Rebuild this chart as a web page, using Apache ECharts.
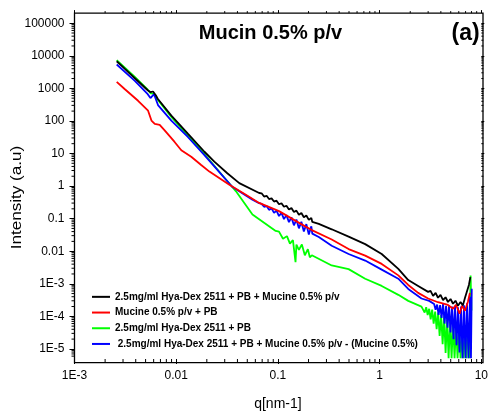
<!DOCTYPE html>
<html>
<head>
<meta charset="utf-8">
<script src="https://cdn.jsdelivr.net/npm/echarts@6/dist/echarts.min.js"></script>
<style>
html,body{margin:0;padding:0;background:#fff;}
#chart{width:491px;height:416px;}
</style>
</head>
<body>
<div id="chart"></div>
<script>
// ---------- data (q [nm-1], intensity [a.u]) ----------
const seriesNames = [
  '2.5mg/ml Hya-Dex 2511 + PB + Mucine 0.5% p/v',
  'Mucine 0.5% p/v + PB',
  '2.5mg/ml Hya-Dex 2511 + PB',
  ' 2.5mg/ml Hya-Dex 2511 + PB + Mucine 0.5% p/v - (Mucine 0.5%)'
];

const blackData = [
  [0.0026, 6790], [0.00313, 3935], [0.00392, 2040], [0.00525, 875],
  [0.0056, 760], [0.00592, 800], [0.0063, 617], [0.00658, 480],
  [0.008955, 145], [0.01301, 40.5], [0.01895, 11.3], [0.0237, 5.6],
  [0.0318, 2.47], [0.0417, 1.23], [0.0654, 0.611],
  [0.0691, 0.599], [0.0731, 0.477], [0.0774, 0.501], [0.0818, 0.399],
  [0.0866, 0.419], [0.0916, 0.334], [0.0969, 0.355], [0.1025, 0.276],
  [0.1084, 0.297], [0.1147, 0.231], [0.1213, 0.2485], [0.1284, 0.191],
  [0.1358, 0.2103], [0.1437, 0.160], [0.1520, 0.176], [0.1608, 0.1323],
  [0.1701, 0.149], [0.1799, 0.1108], [0.1903, 0.1246], [0.2014, 0.0916],
  [0.2130, 0.1055], [0.2178, 0.079],
  [0.2522, 0.069], [0.338, 0.047], [0.4955, 0.0279], [0.721, 0.0165],
  [1.048, 0.0082], [1.527, 0.00287], [1.912, 0.0013], [2.393, 0.000857],
  [2.998, 0.000564], [3.167, 0.000604], [3.357, 0.000427], [3.552, 0.000525],
  [3.75, 0.000372], [3.97, 0.000453], [4.205, 0.000316], [4.45, 0.000386],
  [4.70, 0.000275], [4.98, 0.00034], [5.27, 0.000244], [5.57, 0.000302],
  [5.89, 0.000212], [6.24, 0.000274], [6.59, 0.000217], [6.91, 0.00037],
  [7.21, 0.000407], [7.55, 0.00092], [7.8, 0.0016]
];

const redData = [
  [0.0026, 1585], [0.00313, 940], [0.00422, 415], [0.00529, 206],
  [0.00571, 102.5], [0.00615, 81.4], [0.00688, 75.9], [0.0077, 50.9],
  [0.00964, 22.6], [0.01122, 12.6], [0.01405, 7.94], [0.0176, 4.42],
  [0.0212, 2.78], [0.0333, 1.09], [0.0484, 0.543], [0.0654, 0.304],
  [0.1025, 0.170], [0.187, 0.0568], [0.2155, 0.0445], [0.338, 0.0229],
  [0.4955, 0.0116], [0.721, 0.00733], [1.048, 0.00407], [1.527, 0.00181],
  [1.912, 0.00092], [2.393, 0.000526], [2.998, 0.000353], [3.75, 0.000271],
  [4.70, 0.000223], [5.27, 0.000172], [5.63, 0.000228], [6.12, 0.000121],
  [6.45, 0.000212], [6.90, 0.000149], [7.38, 0.000281], [7.72, 0.000526]
];

const greenData = [
  [0.0026, 7380], [0.00392, 2250], [0.00525, 907], [0.00562, 700],
  [0.00601, 690], [0.00658, 450], [0.008955, 133], [0.01301, 35.2],
  [0.01895, 9.66], [0.02656, 2.75], [0.0333, 1.2], [0.0387, 0.689],
  [0.0562, 0.134], [0.0951, 0.042], [0.1025, 0.04], [0.1122, 0.024],
  [0.1227, 0.029], [0.1313, 0.017], [0.1405, 0.022], [0.149, 0.0046],
  [0.152, 0.016], [0.1608, 0.011], [0.172, 0.016], [0.184, 0.0075],
  [0.197, 0.0115], [0.206, 0.0065], [0.2155, 0.0075], [0.338, 0.00365],
  [0.4955, 0.00281], [0.721, 0.00143], [1.048, 0.000857], [1.527, 0.000457],
  [1.912, 0.000298], [2.58, 0.000198],
  [2.681, 0.0002], [2.773, 0.00013], [2.869, 0.00019], [2.968, 0.00011],
  [3.070, 0.00017], [3.176, 0.00008], [3.285, 0.00016], [3.398, 0.00006],
  [3.515, 0.00014], [3.636, 0.00004], [3.761, 0.00013], [3.890, 0.000025],
  [4.024, 0.00011], [4.163, 0.000014], [4.306, 0.0001], [4.454, 0.0000075],
  [4.607, 0.00008], [4.766, 0.0000052], [4.930, 0.00007], [5.100, 0.0000052],
  [5.275, 0.00006], [5.456, 0.0000052], [5.644, 0.00005], [5.838, 0.0000052],
  [6.039, 0.00004], [6.247, 0.0000052], [6.462, 0.00003], [6.684, 0.0000052],
  [6.914, 0.00003], [7.152, 0.0000052], [7.398, 0.00006], [7.652, 0.0000052],
  [7.84, 0.0018], [8.0, 0.00015]
];

const blueData = [
  [0.0026, 5390], [0.00392, 1702], [0.00525, 662], [0.00558, 501],
  [0.00605, 662], [0.00662, 307], [0.008955, 102.5], [0.01301, 32.1],
  [0.01895, 8.88], [0.02656, 2.69], [0.0333, 1.2], [0.0358, 0.929],
  [0.0562, 0.383], [0.0654, 0.297],
  [0.0691, 0.284], [0.0731, 0.231], [0.0774, 0.2424], [0.0818, 0.1856],
  [0.0866, 0.2068], [0.0916, 0.1495], [0.0969, 0.1764], [0.1025, 0.1201],
  [0.1084, 0.1505], [0.1147, 0.0966], [0.1213, 0.1281], [0.1284, 0.0776],
  [0.1358, 0.1093], [0.1437, 0.0623], [0.1520, 0.0933], [0.1608, 0.0502],
  [0.1701, 0.0796], [0.1799, 0.0404], [0.1903, 0.0679], [0.2014, 0.0324],
  [0.2130, 0.0579], [0.2178, 0.0347],
  [0.2522, 0.0272], [0.338, 0.0147],
  [0.4955, 0.00819], [0.721, 0.00516], [1.048, 0.00272], [1.527, 0.00143],
  [1.912, 0.000695], [2.58, 0.000353], [3.07, 0.000298],
  [3.434, 0.00024], [3.552, 0.00016], [3.675, 0.00023], [3.801, 0.00011],
  [3.932, 0.00022], [4.067, 0.00009], [4.207, 0.00024], [4.352, 0.00006],
  [4.502, 0.00021], [4.657, 0.000045], [4.817, 0.00022], [4.983, 0.000032],
  [5.154, 0.0002], [5.332, 0.00002], [5.515, 0.00021], [5.705, 0.000013],
  [5.901, 0.00019], [6.104, 0.0000078], [6.314, 0.0002], [6.531, 0.0000052],
  [6.756, 0.00022], [6.988, 0.0000052], [7.229, 0.00025], [7.477, 0.0000052],
  [7.735, 0.0004], [7.91, 0.0000052], [8.05, 0.0007]
];

const xTickLabels = ['1E-3', '0.01', '0.1', '1', '10'];            // 10^-3 .. 10^1
const yTickLabels = ['1E-5', '1E-4', '1E-3', '0.01', '0.1', '1',
                     '10', '100', '1000', '10000', '100000'];      // 10^-5 .. 10^5
const minorMultipliers = [2, 3, 4, 5, 6, 7, 8, 9];

// ---------- layout / style ----------
const FONT = 'Liberation Sans, Arial, sans-serif';
const FRAME_PAD = 10.1;   // frame extends beyond the y-range
const X_MIN = 0.001, X_MAX = 10, Y_MIN = 1e-5, Y_MAX = 1e5;

const xMinor = [];
for (let e = -3; e < 1; e++) minorMultipliers.forEach(m => xMinor.push([m * Math.pow(10, e), Y_MIN]));
const yMinor = [];
for (let e = -6; e < 5; e++) minorMultipliers.forEach(m => {
  const v = m * Math.pow(10, e);
  if (v > 5.5e-6) yMinor.push([X_MIN, v]);
});

const chart = echarts.init(document.getElementById('chart'), null, {renderer: 'canvas'});

const lineSeries = (name, data, color, z) => ({
  name, type: 'line', data, xAxisIndex: 0, yAxisIndex: 0,
  showSymbol: false, symbol: 'none', clip: false, z,
  lineStyle: {color, width: 1.8}, itemStyle: {color}
});

const option = {
  animation: false,
  backgroundColor: '#fff',
  title: [
    {text: 'Mucin 0.5% p/v', left: 270.5, top: 23, textAlign: 'center', padding: 0,
     textStyle: {fontFamily: FONT, fontSize: 20, fontWeight: 'bold', color: '#000'}},
    {text: '(a)', left: 451.5, top: 22.5, padding: 0,
     textStyle: {fontFamily: FONT, fontSize: 23, fontWeight: 'bold', color: '#000'}}
  ],
  legend: {
    orient: 'vertical', left: 92, top: 291, itemGap: 4, padding: 0,
    icon: 'rect', itemWidth: 18, itemHeight: 2,
    data: seriesNames,
    textStyle: {fontFamily: FONT, fontSize: 10, fontWeight: 'bold', color: '#000', lineHeight: 11.7},
    selectedMode: false
  },
  grid: [
    {left: 74.5, right: 8, top: 23.2, bottom: 63.4},
    {left: 74.5, right: 8, top: 23.2 - FRAME_PAD, bottom: 63.4 - FRAME_PAD,
     show: true, borderColor: '#000', borderWidth: 1.3, backgroundColor: 'transparent'}
  ],
  xAxis: [
    {type: 'log', gridIndex: 0, min: X_MIN, max: X_MAX, logBase: 10, interval: 1,
     position: 'bottom', offset: FRAME_PAD,
     name: 'q[nm-1]', nameLocation: 'middle', nameGap: 38,
     nameTextStyle: {fontFamily: FONT, fontSize: 14, color: '#000'},
     axisLine: {show: false},
     axisTick: {show: true, inside: false, length: 5, lineStyle: {color: '#000', width: 1}},
     axisLabel: {fontFamily: FONT, fontSize: 12, color: '#000', margin: 11,
       formatter: v => xTickLabels[Math.round(Math.log10(v)) + 3]},
     splitLine: {show: false}, minorTick: {show: false}},
    {type: 'log', gridIndex: 0, min: X_MIN, max: X_MAX, logBase: 10, interval: 1,
     position: 'top', offset: FRAME_PAD,
     axisLine: {show: false},
     axisTick: {show: true, inside: false, length: 3, lineStyle: {color: '#000', width: 1}},
     axisLabel: {show: false}, splitLine: {show: false}},
    {type: 'value', gridIndex: 1, show: false, min: 0, max: 1}
  ],
  yAxis: [
    {type: 'log', gridIndex: 0, min: Y_MIN, max: Y_MAX, logBase: 10, interval: 1,
     position: 'left',
     axisLine: {show: false},
     axisTick: {show: true, inside: false, length: 5, lineStyle: {color: '#000', width: 1}},
     axisLabel: {fontFamily: FONT, fontSize: 12, color: '#000', margin: 10,
       formatter: v => yTickLabels[Math.round(Math.log10(v)) + 5]},
     splitLine: {show: false}, minorTick: {show: false}},
    {type: 'log', gridIndex: 0, min: Y_MIN, max: Y_MAX, logBase: 10, interval: 1,
     position: 'right',
     axisLine: {show: false},
     axisTick: {show: true, inside: false, length: 3, lineStyle: {color: '#000', width: 1}},
     axisLabel: {show: false}, splitLine: {show: false}},
    {type: 'value', gridIndex: 1, show: false, min: 0, max: 1}
  ],
  graphic: [
    {type: 'text', x: 17, y: 197.5, rotation: Math.PI / 2, scaleX: 1.22,
     style: {text: 'Intensity (a.u)', fontFamily: FONT, fontSize: 14, fill: '#000',
             align: 'center', verticalAlign: 'middle'}}
  ],
  series: [
    lineSeries(seriesNames[2], greenData, '#00ff00', 2),
    lineSeries(seriesNames[3], blueData, '#0000ff', 3),
    lineSeries(seriesNames[1], redData, '#ff0000', 4),
    lineSeries(seriesNames[0], blackData, '#000000', 5),
    {
      type: 'custom', xAxisIndex: 0, yAxisIndex: 0, data: xMinor, clip: false, silent: true, z: 10,
      renderItem: (params, api) => {
        const pb = api.coord([api.value(0), Y_MIN]);
        const pt = api.coord([api.value(0), Y_MAX]);
        const yb = pb[1] + FRAME_PAD, yt = pt[1] - FRAME_PAD;
        return {type: 'group', children: [
          {type: 'line', shape: {x1: pb[0], y1: yb, x2: pb[0], y2: yb + 3}, style: {stroke: '#000', lineWidth: 1}},
          {type: 'line', shape: {x1: pt[0], y1: yt, x2: pt[0], y2: yt - 2}, style: {stroke: '#000', lineWidth: 1}}
        ]};
      }
    },
    {
      type: 'custom', xAxisIndex: 0, yAxisIndex: 0, data: yMinor, clip: false, silent: true, z: 10,
      renderItem: (params, api) => {
        const pl = api.coord([X_MIN, api.value(1)]);
        const pr = api.coord([X_MAX, api.value(1)]);
        return {type: 'group', children: [
          {type: 'line', shape: {x1: pl[0], y1: pl[1], x2: pl[0] - 3, y2: pl[1]}, style: {stroke: '#000', lineWidth: 1}},
          {type: 'line', shape: {x1: pr[0], y1: pr[1], x2: pr[0] + 2, y2: pr[1]}, style: {stroke: '#000', lineWidth: 1}}
        ]};
      }
    }
  ]
};
chart.setOption(option);
</script>
</body>
</html>
